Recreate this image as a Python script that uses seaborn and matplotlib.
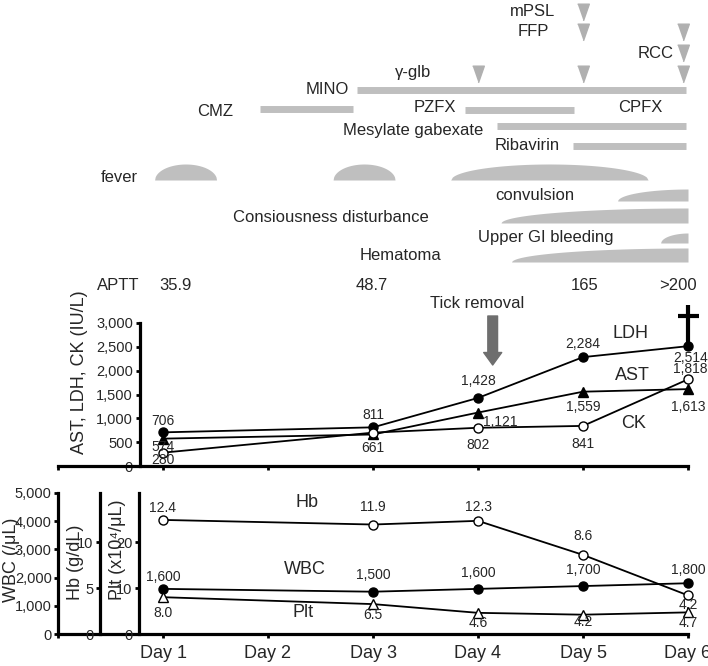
import numpy as np
import matplotlib
matplotlib.use("Agg")
import matplotlib.pyplot as plt
import seaborn as sns

# ---- data ----
days = [1, 3, 4, 5, 6]
ldh = [706, 811, 1428, 2284, 2514]
ast = [574, 661, 1121, 1559, 1613]
ck = [280, 700, 802, 841, 1818]

wbc = [1600, 1500, 1600, 1700, 1800]
hb = [12.4, 11.9, 12.3, 8.6, 4.2]
plt_count = [8.0, 6.5, 4.6, 4.2, 4.7]

aptt_days = [1, 3, 5, 6]
aptt = ['35.9', '48.7', '165', '>200']

drugs = ['MINO', 'CMZ', 'PZFX', 'Mesylate gabexate', 'Ribavirin']
drug_start = [2.85, 1.92, 3.88, 4.18, 4.90]
drug_end = [5.98, 2.81, 4.91, 5.98, 5.98]

bolus = ['mPSL', 'FFP', 'RCC', 'γ-glb']
bolus_days = [[5], [5, 5.95], [5.95], [4, 5, 5.95]]

fever_start = [0.92, 2.62, 3.74]
fever_end = [1.51, 3.21, 5.62]

symptoms = ['convulsion', 'Consiousness disturbance', 'Upper GI bleeding', 'Hematoma']
symptom_start = [5.33, 4.22, 5.74, 4.32]
symptom_end = [6.0, 6.0, 6.0, 6.0]

day_labels = ['Day 1', 'Day 2', 'Day 3', 'Day 4', 'Day 5', 'Day 6']

# ---- style ----
sns.set_theme(style='ticks')
plt.rcParams['font.family'] = ['Liberation Sans Narrow', 'Liberation Sans', 'DejaVu Sans']
plt.rcParams['axes.facecolor'] = 'white'
GREY = '#bfbfbf'
TRI = '#b0b0b0'

W, H = 708, 666
fig = plt.figure(figsize=(W / 100, H / 100), dpi=100)


def box(x0, y0, x1, y1):
    return [x0 / W, 1 - y1 / H, (x1 - x0) / W, (y1 - y0) / H]


# ---- timeline (top) ----
axt = fig.add_axes(box(58, 0, 688, 310))
axt.set_xlim(0, 6)
axt.set_ylim(310, 0)
axt.axis('off')

tri = [(-0.7, 1), (0.7, 1), (0, -1)]
for i, (name, dd) in enumerate(zip(bolus, bolus_days)):
    y = [12, 32, 53, 74][i]
    axt.plot(dd, [y] * len(dd), ls='none', marker=tri, ms=12, color=TRI, clip_on=False)
axt.text(4.52, 12, 'mPSL', ha='center', va='center', fontsize=12)
axt.text(4.53, 32, 'FFP', ha='center', va='center', fontsize=12)
axt.text(5.86, 53, 'RCC', ha='right', va='center', fontsize=12)
axt.text(3.38, 72, 'γ-glb', ha='center', va='center', fontsize=12)

bar_y = [89.5, 109, 109.5, 126, 145.5]
axt.hlines(bar_y, drug_start, drug_end, color=GREY, lw=5)
lab_pos = [(2.77, 90, 'right'), (1.50, 112, 'center'), (3.79, 108, 'right'),
           (4.05, 130, 'right'), (4.78, 146, 'right')]
for name, (x, y, ha) in zip(drugs, lab_pos):
    axt.text(x, y, name, ha=ha, va='center', fontsize=12)
axt.text(5.55, 108, 'CPFX', ha='center', va='center', fontsize=12)

# fever humps
for x0, x1 in zip(fever_start, fever_end):
    t = np.linspace(-1, 1, 120)
    xs = (x0 + x1) / 2 + t * (x1 - x0) / 2
    axt.fill_between(xs, 180, 180 - 16 * np.sqrt(1 - t ** 2), color=GREY, lw=0)
axt.text(0.76, 177, 'fever', ha='right', va='center', fontsize=12)

# symptoms (rising shapes)
sym_base = [201, 223, 243, 262]
sym_h = [12, 15, 10, 14]
sym_lab = [(4.54, 195), (2.60, 217), (4.65, 237), (3.26, 255)]
for name, x0, x1, b, h, (lx, ly) in zip(symptoms, symptom_start, symptom_end,
                                         sym_base, sym_h, sym_lab):
    th = np.linspace(0, np.pi / 2, 120)
    xs = x1 - (x1 - x0) * np.cos(th)
    axt.fill_between(xs, b, b - h * np.sin(th), color=GREY, lw=0)
    axt.text(lx, ly, name, ha='center', va='center', fontsize=12)

# APTT row
axt.text(0.57, 285, 'APTT', ha='center', va='center', fontsize=12)
for x, v in zip([1.12, 2.99, 5.02, 5.90], aptt):
    axt.text(x, 285, v, ha='center', va='center', fontsize=12)

# tick removal arrow
axt.text(3.99, 303, 'Tick removal', ha='center', va='center', fontsize=12)
axt.annotate('', xy=(4.14, 365), xytext=(4.14, 316), annotation_clip=False,
             arrowprops=dict(arrowstyle='simple,head_width=1.3,head_length=0.9,tail_width=0.7',
                             color='#6e6e6e', shrinkA=0, shrinkB=0, mutation_scale=10))

# death cross
axt.plot([6, 6], [305, 343], color='black', lw=3, solid_capstyle='butt', clip_on=False)
axt.plot([5.9, 6.1], [316, 316], color='black', lw=3, solid_capstyle='butt', clip_on=False)

# ---- enzymes panel ----
ax1 = fig.add_axes(box(58, 323, 688, 466))
ax1.set_facecolor('none')
line_kw = dict(color='black', linewidth=1.3, markersize=6.5, markeredgecolor='black',
               markeredgewidth=1.0, clip_on=False)
sns.lineplot(x=days, y=ldh, ax=ax1, marker='o', markerfacecolor='black', **line_kw)
sns.lineplot(x=days, y=ast, ax=ax1, marker='^', markerfacecolor='black', **line_kw)
sns.lineplot(x=days, y=ck, ax=ax1, marker='o', markerfacecolor='white', **line_kw)
ax1.set_xlim(0, 6)
ax1.set_ylim(0, 3000)
for s in ['top', 'right']:
    ax1.spines[s].set_visible(False)
ax1.spines['left'].set_position(('data', 0.78))
for s in ['left', 'bottom']:
    ax1.spines[s].set_linewidth(2.3)
    ax1.spines[s].set_color('black')
ax1.set_xticks(range(7))
ax1.set_xticklabels([])
ax1.set_yticks(range(0, 3001, 500))
ax1.set_yticklabels([f'{v:,}' for v in range(0, 3001, 500)])
ax1.tick_params(axis='both', length=3, width=2, color='black', pad=2, labelsize=10.5)
ax1.set_xlabel('')
ax1.set_ylabel('')

lab_kw = dict(textcoords='offset pixels', ha='center', va='center', fontsize=10,
              annotation_clip=False)
ldh_off = [(0, 11), (0, 12), (0, 17), (0, 13), (3, -12)]
ast_off = [(0, -8), (0, -14), (None, -9), (0, -15), (0, -18)]
ck_off = [(0, -7), None, (0, -17), (0, -18), (2, 10)]
for d, v, o in zip(days, ldh, ldh_off):
    ax1.annotate(f'{v:,}', (d, v), xytext=o, **lab_kw)
for d, v, o in zip(days, ast, ast_off):
    if o[0] is None:
        ax1.annotate(f'{v:,}', (d, v), xytext=(5, o[1]), **{**lab_kw, 'ha': 'left'})
    else:
        ax1.annotate(f'{v:,}', (d, v), xytext=o, **lab_kw)
for d, v, o in zip(days, ck, ck_off):
    if o is not None:
        ax1.annotate(f'{v:,}', (d, v), xytext=o, **lab_kw)
ax1.text(5.45, 2790, 'LDH', ha='center', va='center', fontsize=13)
ax1.text(5.47, 1909, 'AST', ha='center', va='center', fontsize=13)
ax1.text(5.48, 902, 'CK', ha='center', va='center', fontsize=13)
fig.text(80 / W, 1 - 372 / H, 'AST, LDH, CK (IU/L)', rotation=90,
         ha='center', va='center', fontsize=13)

# ---- blood count panel ----
ax2 = fig.add_axes(box(58, 493, 688, 634))
ax2.set_facecolor('none')
axh = ax2.twinx()
axp = ax2.twinx()
sns.lineplot(x=days, y=hb, ax=axh, marker='o', markerfacecolor='white', **line_kw)
sns.lineplot(x=days, y=wbc, ax=ax2, marker='o', markerfacecolor='black', **line_kw)
sns.lineplot(x=days, y=plt_count, ax=axp, marker='^', markerfacecolor='white', **line_kw)
ax2.set_xlim(0, 6)
ax2.set_ylim(0, 5000)
axh.set_ylim(0, 141 / 9.2)
axp.set_ylim(0, 2 * 141 / 9.2)

for a in [ax2, axh, axp]:
    for s in ['top', 'right']:
        a.spines[s].set_visible(False)
    a.spines['left'].set_visible(True)
    a.spines['left'].set_linewidth(2.3)
    a.spines['left'].set_color('black')
    a.yaxis.tick_left()
    a.set_xlabel('')
    a.set_ylabel('')
    a.tick_params(axis='y', length=3, width=2, color='black', pad=1.5, labelsize=10.5)
for a in [axh, axp]:
    a.spines['bottom'].set_visible(False)
axh.spines['left'].set_position(('data', 0.40))
axp.spines['left'].set_position(('data', 0.77))
ax2.spines['bottom'].set_linewidth(2.3)
ax2.spines['bottom'].set_color('black')

ax2.set_yticks(range(0, 5001, 1000))
ax2.set_yticklabels([f'{v:,}' for v in range(0, 5001, 1000)])
axh.set_yticks([0, 5, 10])
axp.set_yticks([0, 10, 20])
ax2.set_xticks(range(7))
ax2.set_xticklabels([''] + day_labels)
ax2.tick_params(axis='x', length=3, width=2, color='black', pad=5, labelsize=13)

hb_off = [(0, 12), (0, 18), (0, 14), (0, 19), (0, -10)]
wbc_off = [(0, 12), (0, 17), (0, 16), (0, 16), (0, 13)]
plt_off = [(0, -16), (0, -11), (0, -10), (0, -7), (0, -11)]
for d, v, o in zip(days, hb, hb_off):
    axh.annotate(f'{v:.1f}', (d, v), xytext=o, **lab_kw)
for d, v, o in zip(days, wbc, wbc_off):
    ax2.annotate(f'{v:,}', (d, v), xytext=o, **lab_kw)
for d, v, o in zip(days, plt_count, plt_off):
    axp.annotate(f'{v:.1f}', (d, v), xytext=o, **lab_kw)
ax2.text(2.37, 4680, 'Hb', ha='center', va='center', fontsize=13)
ax2.text(2.35, 2270, 'WBC', ha='center', va='center', fontsize=13)
ax2.text(2.33, 745, 'Plt', ha='center', va='center', fontsize=13)

fig.text(12 / W, 1 - 560 / H, 'WBC (/μL)', rotation=90, ha='center', va='center', fontsize=13)
fig.text(75 / W, 1 - 562 / H, 'Hb (g/dL)', rotation=90, ha='center', va='center', fontsize=13)
fig.text(118 / W, 1 - 550 / H, 'Plt (x10⁴/μL)', rotation=90, ha='center', va='center', fontsize=13)

fig.savefig('out.png', dpi=100)
